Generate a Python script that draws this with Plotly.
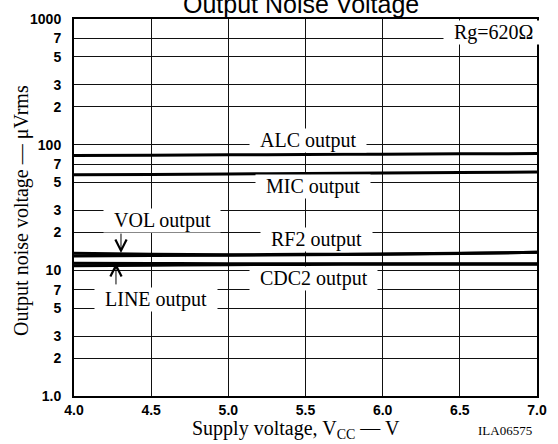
import plotly.graph_objects as go

# ---- data ----
vcc = [4.0, 4.5, 5.0, 5.5, 6.0, 6.5, 7.0]
alc_output = [82.0, 82.5, 83.0, 83.5, 84.0, 84.5, 85.0]
mic_output = [57.5, 58.0, 58.5, 59.0, 59.5, 60.0, 60.5]
vol_output = [13.7, 13.4, 13.3, 13.4, 13.5, 13.7, 13.9]
rf2_output = [13.0, 13.1, 13.2, 13.3, 13.4, 13.6, 13.9]
cdc2_output = [11.4, 11.35, 11.3, 11.3, 11.3, 11.3, 11.3]
line_output = [10.9, 11.0, 11.1, 11.15, 11.2, 11.2, 11.2]

x_tick_vals = [4.0, 4.5, 5.0, 5.5, 6.0, 6.5, 7.0]
x_tick_text = ["4.0", "4.5", "5.0", "5.5", "6.0", "6.5", "7.0"]
y_tick_vals = [1, 2, 3, 5, 7, 10, 20, 30, 50, 70, 100, 200, 300, 500, 700, 1000]
y_tick_text = ["1.0", "2", "3", "5", "7", "10", "2", "3", "5", "7", "100", "2", "3", "5", "7", "1000"]

series = [alc_output, mic_output, vol_output, rf2_output, cdc2_output, line_output]

SERIF = "Liberation Serif"
SANS = "Liberation Sans"

fig = go.Figure()
for s in series:
    fig.add_trace(go.Scatter(x=vcc, y=s, mode="lines",
                             line=dict(color="black", width=3, shape="spline"),
                             showlegend=False, hoverinfo="skip"))

NB = "\u00a0"
labels = [
    ("ALC output", 5.516, 2.033),
    ("MIC output", 5.549, 1.667),
    ("RF2 output", 5.574, 1.246),
    ("CDC2 output", 5.549, 0.935),
    ("VOL output", 4.570, 1.394),
    ("LINE output", 4.531, 0.771),
    ("Rg=620\u03a9", 6.715, 2.889),
]
annotations = []
for txt, xx, yy in labels:
    annotations.append(dict(x=xx, y=yy, xref="x", yref="y", text=NB + NB + txt + NB + NB,
                            showarrow=False, bgcolor="white", borderpad=0,
                            xanchor="center", yanchor="middle",
                            font=dict(family=SERIF, size=20, color="black")))
# arrows
annotations.append(dict(x=4.3045, y=1.137, xref="x", yref="y", text="", showarrow=True,
                        ax=0, ay=-21, arrowhead=5, arrowsize=2.2, arrowwidth=1,
                        arrowcolor="black", standoff=0))
annotations.append(dict(x=4.272, y=1.059, xref="x", yref="y", text="", showarrow=True,
                        ax=0, ay=23, arrowhead=5, arrowsize=2.2, arrowwidth=1,
                        arrowcolor="black", standoff=0))
# titles
annotations.append(dict(x=0.491, y=1.041, xref="paper", yref="paper", text="Output Noise Voltage",
                        showarrow=False, xanchor="center", yanchor="middle",
                        font=dict(family=SANS, size=25, color="black")))
annotations.append(dict(x=0.479, y=-0.089, xref="paper", yref="paper",
                        text="Supply voltage, V<sub>CC</sub> \u2014 V",
                        showarrow=False, xanchor="center", yanchor="middle",
                        font=dict(family=SERIF, size=20, color="black")))
annotations.append(dict(x=0.931, y=-0.091, xref="paper", yref="paper", text="ILA06575",
                        showarrow=False, xanchor="center", yanchor="middle",
                        font=dict(family=SERIF, size=13, color="black")))
annotations.append(dict(x=-0.1123, y=0.491, xref="paper", yref="paper",
                        text="Output noise voltage \u2014 \u03bcVrms", textangle=-90,
                        showarrow=False, xanchor="center", yanchor="middle",
                        font=dict(family=SERIF, size=20, color="black")))

fig.update_layout(
    width=558, height=444,
    margin=dict(l=74, r=21, t=11, b=48),
    paper_bgcolor="white", plot_bgcolor="white",
    annotations=annotations,
    showlegend=False,
)
fig.update_xaxes(range=[4, 7], tickvals=x_tick_vals, ticktext=x_tick_text,
                 showgrid=True, gridcolor="#111", gridwidth=1,
                 showline=True, linecolor="black", linewidth=2, mirror=True,
                 ticks="", ticklabelstandoff=0, zeroline=False,
                 tickfont=dict(family=SANS, size=14, color="black", weight="bold"))
fig.update_yaxes(type="log", range=[0, 3], tickvals=y_tick_vals, ticktext=y_tick_text,
                 showgrid=True, gridcolor="#111", gridwidth=1,
                 showline=True, linecolor="black", linewidth=2, mirror=True,
                 ticks="", ticklabelstandoff=8, zeroline=False,
                 tickfont=dict(family=SANS, size=14, color="black", weight="bold"))

fig.write_html("out.html", config={"displayModeBar": False},
               post_script="document.body.style.margin='0';document.body.style.overflow='hidden';")
